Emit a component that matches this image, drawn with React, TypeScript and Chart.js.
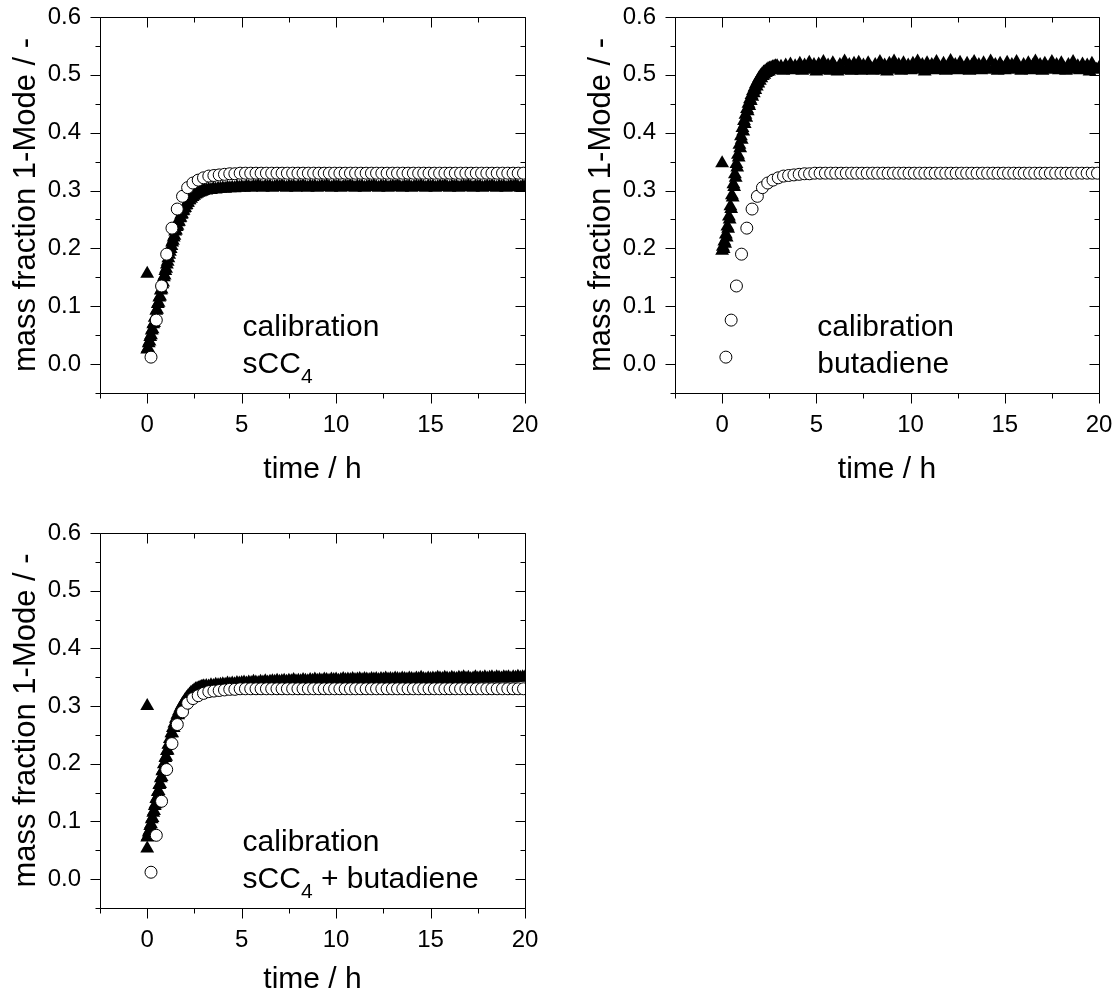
import React, { useEffect, useRef } from 'react';
import { Chart, registerables } from 'chart.js';

Chart.register(...registerables);

const FONT = "'Liberation Sans', Arial, Helvetica, sans-serif";

// ---- axis ticks ----
const xMajorTicks = [0, 5, 10, 15, 20];
const xMinorTicks = [-2.5, 2.5, 7.5, 12.5, 17.5];
const yMajorTicks = [0, 0.1, 0.2, 0.3, 0.4, 0.5, 0.6];
const yMinorTicks = [-0.05, 0.05, 0.15, 0.25, 0.35, 0.45, 0.55];

// ---- open circles (reference curve, same in all panels) ----
const modelT = [
  0.2, 0.48, 0.76, 1.03, 1.31, 1.59, 1.87, 2.14, 2.42, 2.70,
  2.98, 3.26, 3.53, 3.81, 4.09, 4.37, 4.64, 4.92, 5.20, 5.48,
  5.76, 6.03, 6.31, 6.59, 6.87, 7.14, 7.42, 7.70, 7.98, 8.25,
  8.53, 8.81, 9.09, 9.37, 9.64, 9.92, 10.20, 10.48, 10.76, 11.03,
  11.31, 11.59, 11.87, 12.14, 12.42, 12.70, 12.98, 13.25, 13.53, 13.81,
  14.09, 14.37, 14.64, 14.92, 15.20, 15.48, 15.76, 16.03, 16.31, 16.59,
  16.87, 17.14, 17.42, 17.70, 17.98, 18.25, 18.53, 18.81, 19.09, 19.37,
  19.64, 19.92,
];
const modelV = [
  0.012, 0.076, 0.135, 0.190, 0.235, 0.268, 0.290, 0.305, 0.313, 0.318,
  0.322, 0.325, 0.326, 0.327, 0.328, 0.329, 0.329, 0.330, 0.330, 0.330,
  0.330, 0.330, 0.330, 0.330, 0.330, 0.330, 0.330, 0.330, 0.330, 0.330,
  0.330, 0.330, 0.330, 0.330, 0.330, 0.330, 0.330, 0.330, 0.330, 0.330,
  0.330, 0.330, 0.330, 0.330, 0.330, 0.330, 0.330, 0.330, 0.330, 0.330,
  0.330, 0.330, 0.330, 0.330, 0.330, 0.330, 0.330, 0.330, 0.330, 0.330,
  0.330, 0.330, 0.330, 0.330, 0.330, 0.330, 0.330, 0.330, 0.330, 0.330,
  0.330, 0.330,
];

// ---- filled triangles (measured): sampling times ----
const riseT = [
  0, 0.04, 0.08, 0.12, 0.16, 0.20, 0.24, 0.28, 0.32, 0.36,
  0.40, 0.44, 0.48, 0.52, 0.56, 0.60, 0.64, 0.68, 0.72, 0.76,
  0.80, 0.84, 0.88, 0.92, 0.96, 1.00, 1.04, 1.08, 1.12, 1.16,
  1.20, 1.24, 1.28, 1.32, 1.36, 1.40, 1.44, 1.48, 1.52, 1.56,
  1.60, 1.64, 1.68, 1.72, 1.76, 1.80, 1.84, 1.88, 1.92, 1.96,
  2.00, 2.04, 2.08, 2.12, 2.16, 2.20, 2.24, 2.28, 2.32, 2.36,
  2.40, 2.44, 2.48, 2.52, 2.56, 2.60, 2.64, 2.68, 2.72, 2.76,
  2.80, 2.84, 2.88, 2.92, 2.96,
];
const plateauT = [
  3, 3.125, 3.25, 3.375, 3.5, 3.625, 3.75, 3.875,
  4, 4.125, 4.25, 4.375, 4.5, 4.625, 4.75, 4.875,
  5, 5.125, 5.25, 5.375, 5.5, 5.625, 5.75, 5.875,
  6, 6.125, 6.25, 6.375, 6.5, 6.625, 6.75, 6.875,
  7, 7.125, 7.25, 7.375, 7.5, 7.625, 7.75, 7.875,
  8, 8.125, 8.25, 8.375, 8.5, 8.625, 8.75, 8.875,
  9, 9.125, 9.25, 9.375, 9.5, 9.625, 9.75, 9.875,
  10, 10.125, 10.25, 10.375, 10.5, 10.625, 10.75, 10.875,
  11, 11.125, 11.25, 11.375, 11.5, 11.625, 11.75, 11.875,
  12, 12.125, 12.25, 12.375, 12.5, 12.625, 12.75, 12.875,
  13, 13.125, 13.25, 13.375, 13.5, 13.625, 13.75, 13.875,
  14, 14.125, 14.25, 14.375, 14.5, 14.625, 14.75, 14.875,
  15, 15.125, 15.25, 15.375, 15.5, 15.625, 15.75, 15.875,
  16, 16.125, 16.25, 16.375, 16.5, 16.625, 16.75, 16.875,
  17, 17.125, 17.25, 17.375, 17.5, 17.625, 17.75, 17.875,
  18, 18.125, 18.25, 18.375, 18.5, 18.625, 18.75, 18.875,
  19, 19.125, 19.25, 19.375, 19.5, 19.625, 19.75, 19.875,
  20,
];

// ---- panel 1: calibration sCC4 ----
const sccRiseV = [
  0.025, 0.028, 0.036, 0.039, 0.047, 0.050, 0.058, 0.060, 0.069, 0.071,
  0.080, 0.082, 0.092, 0.094, 0.104, 0.106, 0.115, 0.117, 0.127, 0.129,
  0.138, 0.141, 0.150, 0.153, 0.161, 0.165, 0.172, 0.177, 0.183, 0.189,
  0.194, 0.199, 0.204, 0.210, 0.213, 0.219, 0.222, 0.229, 0.231, 0.237,
  0.239, 0.245, 0.246, 0.252, 0.253, 0.258, 0.259, 0.264, 0.265, 0.269,
  0.270, 0.274, 0.275, 0.279, 0.279, 0.283, 0.283, 0.287, 0.286, 0.290,
  0.289, 0.292, 0.291, 0.294, 0.293, 0.295, 0.295, 0.297, 0.296, 0.298,
  0.297, 0.299, 0.298, 0.300, 0.299,
];
const sccPlateauV = [
  0.301, 0.300, 0.302, 0.301, 0.303, 0.302, 0.303, 0.303,
  0.304, 0.303, 0.305, 0.304, 0.305, 0.304, 0.306, 0.305,
  0.306, 0.305, 0.307, 0.306, 0.305, 0.307, 0.306, 0.308,
  0.306, 0.305, 0.307, 0.306, 0.307, 0.305, 0.306, 0.307,
  0.306, 0.308, 0.306, 0.305, 0.307, 0.306, 0.307, 0.305,
  0.307, 0.306, 0.308, 0.306, 0.305, 0.307, 0.306, 0.307,
  0.305, 0.306, 0.307, 0.306, 0.308, 0.306, 0.305, 0.307,
  0.306, 0.307, 0.305, 0.306, 0.307, 0.306, 0.308, 0.306,
  0.305, 0.307, 0.306, 0.307, 0.305, 0.306, 0.307, 0.306,
  0.308, 0.306, 0.305, 0.307, 0.306, 0.307, 0.305, 0.306,
  0.307, 0.306, 0.308, 0.306, 0.305, 0.307, 0.306, 0.307,
  0.305, 0.306, 0.307, 0.306, 0.308, 0.306, 0.305, 0.307,
  0.306, 0.307, 0.305, 0.306, 0.307, 0.306, 0.308, 0.306,
  0.305, 0.307, 0.306, 0.307, 0.305, 0.306, 0.307, 0.306,
  0.308, 0.306, 0.305, 0.307, 0.306, 0.307, 0.305, 0.306,
  0.307, 0.306, 0.308, 0.306, 0.305, 0.307, 0.306, 0.307,
  0.305, 0.306, 0.307, 0.306, 0.308, 0.306, 0.305, 0.307,
  0.306,
];
const sccExtraT = [0];
const sccExtraV = [0.156];

// ---- panel 2: calibration butadiene ----
const butRiseV = [
  0.196, 0.203, 0.199, 0.212, 0.208, 0.224, 0.219, 0.238, 0.234, 0.255,
  0.250, 0.273, 0.268, 0.292, 0.288, 0.311, 0.306, 0.328, 0.322, 0.346,
  0.340, 0.362, 0.357, 0.379, 0.373, 0.394, 0.388, 0.408, 0.402, 0.420,
  0.415, 0.431, 0.426, 0.441, 0.437, 0.450, 0.446, 0.458, 0.455, 0.465,
  0.462, 0.472, 0.468, 0.478, 0.474, 0.484, 0.480, 0.489, 0.485, 0.494,
  0.490, 0.498, 0.494, 0.501, 0.498, 0.504, 0.500, 0.506, 0.503, 0.508,
  0.505, 0.510, 0.506, 0.511, 0.508, 0.512, 0.509, 0.513, 0.510, 0.514,
  0.511, 0.515, 0.511, 0.515, 0.512,
];
const butPlateauV = [
  0.509, 0.514, 0.507, 0.516, 0.510, 0.518, 0.508, 0.515,
  0.511, 0.519, 0.507, 0.516, 0.509, 0.521, 0.510, 0.517,
  0.506, 0.518, 0.511, 0.522, 0.508, 0.516, 0.507, 0.520,
  0.512, 0.506, 0.517, 0.510, 0.523, 0.508, 0.517, 0.507,
  0.519, 0.510, 0.521, 0.507, 0.516, 0.509, 0.520, 0.512,
  0.507, 0.517, 0.510, 0.522, 0.508, 0.516, 0.506, 0.519,
  0.511, 0.523, 0.509, 0.517, 0.507, 0.520, 0.510, 0.516,
  0.508, 0.519, 0.512, 0.523, 0.509, 0.517, 0.506, 0.520,
  0.510, 0.517, 0.508, 0.522, 0.512, 0.509, 0.519, 0.507,
  0.514, 0.524, 0.510, 0.517, 0.508, 0.521, 0.512, 0.509,
  0.519, 0.507, 0.516, 0.522, 0.510, 0.517, 0.508, 0.520,
  0.512, 0.509, 0.523, 0.510, 0.517, 0.507, 0.519, 0.512,
  0.508, 0.521, 0.510, 0.517, 0.509, 0.522, 0.512, 0.507,
  0.517, 0.510, 0.520, 0.508, 0.516, 0.523, 0.510, 0.517,
  0.507, 0.519, 0.512, 0.509, 0.522, 0.510, 0.517, 0.508,
  0.520, 0.512, 0.507, 0.517, 0.510, 0.522, 0.509, 0.515,
  0.508, 0.518, 0.510, 0.516, 0.506, 0.519, 0.511, 0.509,
  0.512,
];
const butExtraT = [0];
const butExtraV = [0.347];

// ---- panel 3: calibration sCC4 + butadiene ----
const mixRiseV = [
  0.072, 0.075, 0.081, 0.084, 0.092, 0.095, 0.104, 0.106, 0.115, 0.118,
  0.127, 0.130, 0.139, 0.141, 0.151, 0.153, 0.163, 0.165, 0.175, 0.177,
  0.187, 0.189, 0.199, 0.200, 0.210, 0.212, 0.222, 0.223, 0.233, 0.234,
  0.243, 0.244, 0.253, 0.253, 0.262, 0.262, 0.270, 0.270, 0.278, 0.277,
  0.285, 0.284, 0.291, 0.290, 0.297, 0.296, 0.302, 0.301, 0.306, 0.305,
  0.310, 0.309, 0.314, 0.313, 0.317, 0.316, 0.320, 0.319, 0.323, 0.321,
  0.325, 0.323, 0.327, 0.325, 0.329, 0.327, 0.330, 0.328, 0.331, 0.330,
  0.332, 0.331, 0.333, 0.332, 0.334,
];
const mixPlateauV = [
  0.334, 0.335, 0.334, 0.336, 0.335, 0.337, 0.336, 0.337,
  0.338, 0.337, 0.339, 0.338, 0.339, 0.338, 0.340, 0.339,
  0.340, 0.341, 0.339, 0.341, 0.340, 0.342, 0.341, 0.340,
  0.342, 0.341, 0.343, 0.341, 0.342, 0.343, 0.342, 0.344,
  0.342, 0.343, 0.344, 0.342, 0.344, 0.343, 0.345, 0.343,
  0.344, 0.343, 0.345, 0.344, 0.343, 0.345, 0.344, 0.346,
  0.344, 0.345, 0.344, 0.346, 0.345, 0.344, 0.346, 0.345,
  0.346, 0.344, 0.345, 0.347, 0.345, 0.346, 0.345, 0.347,
  0.345, 0.346, 0.347, 0.345, 0.347, 0.346, 0.345, 0.347,
  0.346, 0.347, 0.345, 0.347, 0.346, 0.348, 0.346, 0.347,
  0.346, 0.348, 0.347, 0.346, 0.348, 0.347, 0.346, 0.348,
  0.347, 0.346, 0.348, 0.347, 0.349, 0.347, 0.346, 0.348,
  0.347, 0.348, 0.347, 0.349, 0.348, 0.347, 0.349, 0.348,
  0.347, 0.349, 0.348, 0.347, 0.349, 0.348, 0.350, 0.348,
  0.349, 0.347, 0.348, 0.350, 0.348, 0.349, 0.348, 0.350,
  0.348, 0.349, 0.350, 0.348, 0.350, 0.349, 0.348, 0.350,
  0.349, 0.350, 0.348, 0.350, 0.349, 0.351, 0.349, 0.350,
  0.350,
];
const mixExtraT = [0, 0];
const mixExtraV = [0.300, 0.053];

// ---- annotation texts ----
const sccLines = [[{ text: 'calibration' }], [{ text: 'sCC' }, { text: '4', sub: true }]];
const butLines = [[{ text: 'calibration' }], [{ text: 'butadiene' }]];
const mixLines = [[{ text: 'calibration' }], [{ text: 'sCC' }, { text: '4', sub: true }, { text: ' + butadiene' }]];

type Part = { text: string; sub?: boolean };

const framePlugin = {
  id: 'frame',
  afterDatasetsDraw(chart: any) {
    const { ctx, chartArea } = chart;
    const xs = chart.scales.x;
    const ys = chart.scales.y;
    const L = Math.round(chartArea.left) + 0.5;
    const R = Math.round(chartArea.right) + 0.5;
    const T = Math.round(chartArea.top) + 0.5;
    const B = Math.round(chartArea.bottom) + 0.5;
    ctx.save();
    ctx.strokeStyle = '#000';
    ctx.lineWidth = 1;
    ctx.beginPath();
    ctx.rect(L, T, R - L, B - T);
    const xt = (v: number, len: number) => {
      const p = Math.round(xs.getPixelForValue(v)) + 0.5;
      ctx.moveTo(p, B); ctx.lineTo(p, B + len);
      ctx.moveTo(p, T); ctx.lineTo(p, T + len);
    };
    const yt = (v: number, len: number) => {
      const p = Math.round(ys.getPixelForValue(v)) + 0.5;
      ctx.moveTo(L, p); ctx.lineTo(L - len, p);
      ctx.moveTo(R, p); ctx.lineTo(R - len, p);
    };
    xMajorTicks.forEach((v) => xt(v, 10));
    xMinorTicks.forEach((v) => xt(v, 5));
    yMajorTicks.forEach((v) => yt(v, 10));
    yMinorTicks.forEach((v) => yt(v, 5));
    ctx.stroke();
    ctx.restore();
  },
};

function makeTextPlugin(lines: Part[][], tx: number, ty: number[]) {
  return {
    id: 'annot',
    afterDraw(chart: any) {
      const { ctx } = chart;
      const xs = chart.scales.x;
      const ys = chart.scales.y;
      ctx.save();
      ctx.fillStyle = '#000';
      ctx.textAlign = 'left';
      ctx.textBaseline = 'alphabetic';
      lines.forEach((parts, i) => {
        let px = xs.getPixelForValue(tx);
        const py = ys.getPixelForValue(ty[i]);
        parts.forEach((p) => {
          ctx.font = `${p.sub ? 21 : 30}px ${FONT}`;
          ctx.fillText(p.text, px, py + (p.sub ? 10 : 0));
          px += ctx.measureText(p.text).width;
        });
      });
      ctx.restore();
    },
  };
}

type PanelProps = {
  left: number; top: number; width: number; height: number;
  padTop: number; padRight: number; xAxisH: number; xTitlePad: number;
  riseV: number[]; plateauV: number[]; extraT: number[]; extraV: number[]; lines: Part[][];
};

function Panel(p: PanelProps) {
  const ref = useRef<HTMLCanvasElement>(null);
  useEffect(() => {
    if (!ref.current) return;
    const zeroPad = (s: any) => {
      s.paddingTop = 0; s.paddingBottom = 0; s.paddingLeft = 0; s.paddingRight = 0;
    };
    const circles = modelT.map((t, i) => ({ x: t, y: modelV[i] }));
    const tris = riseT.map((t, i) => ({ x: t, y: p.riseV[i] }))
      .concat(plateauT.map((t, i) => ({ x: t, y: p.plateauV[i] })))
      .concat(p.extraT.map((t, i) => ({ x: t, y: p.extraV[i] })));
    const chart = new Chart(ref.current, {
      type: 'scatter',
      data: {
        datasets: [
          {
            data: circles,
            pointStyle: 'circle',
            pointRadius: 6,
            pointHoverRadius: 6,
            pointBorderWidth: 1,
            pointBackgroundColor: '#fff',
            pointBorderColor: '#000',
            backgroundColor: '#fff',
            borderColor: '#000',
            clip: 0,
          } as any,
          {
            data: tris,
            pointStyle: 'triangle',
            pointRadius: 8,
            pointHoverRadius: 8,
            pointBorderWidth: 0,
            pointBackgroundColor: '#000',
            pointBorderColor: '#000',
            backgroundColor: '#000',
            borderColor: '#000',
            clip: 0,
          } as any,
        ],
      },
      options: {
        animation: false,
        responsive: false,
        devicePixelRatio: 1,
        events: [],
        layout: { padding: { top: p.padTop, right: p.padRight, bottom: 0, left: 0 } },
        plugins: { legend: { display: false }, tooltip: { enabled: false } },
        scales: {
          x: {
            type: 'linear',
            min: -2.5,
            max: 20,
            afterBuildTicks: (s: any) => { s.ticks = xMajorTicks.map((v) => ({ value: v })); },
            afterFit: (s: any) => { s.height = p.xAxisH; zeroPad(s); },
            grid: { display: false, drawTicks: false },
            border: { display: false },
            ticks: {
              color: '#000',
              font: { family: FONT, size: 24 },
              padding: 17.6,
              maxRotation: 0,
              autoSkip: false,
              callback: (v: any) => String(v),
            },
            title: {
              display: true,
              text: 'time / h',
              color: '#000',
              font: { family: FONT, size: 30 },
              padding: { top: 0, bottom: p.xTitlePad },
            },
          },
          y: {
            type: 'linear',
            min: -0.05,
            max: 0.6,
            afterBuildTicks: (s: any) => { s.ticks = yMajorTicks.map((v) => ({ value: v })); },
            afterFit: (s: any) => { s.width = 100; zeroPad(s); },
            grid: { display: false, drawTicks: false },
            border: { display: false },
            ticks: {
              color: '#000',
              font: { family: FONT, size: 24 },
              padding: 19,
              autoSkip: false,
              callback: (v: any) => Number(v).toFixed(1),
            },
            title: {
              display: true,
              text: 'mass fraction 1-Mode / -',
              color: '#000',
              font: { family: FONT, size: 31 },
              padding: { top: 7.7, bottom: 0 },
            },
          },
        },
      } as any,
      plugins: [framePlugin, makeTextPlugin(p.lines, 5.05, [0.0485, -0.0156])],
    });
    return () => chart.destroy();
  }, []);
  return (
    <canvas
      ref={ref}
      width={p.width}
      height={p.height}
      style={{ position: 'absolute', left: p.left, top: p.top, width: p.width, height: p.height }}
    />
  );
}

export default function App() {
  return (
    <div style={{ position: 'absolute', left: 0, top: 0, width: 1119, height: 1001, background: '#fff', overflow: 'hidden' }}>
      <Panel left={0} top={0} width={560} height={490} padTop={17} padRight={35} xAxisH={97} xTitlePad={2.4}
        riseV={sccRiseV} plateauV={sccPlateauV} extraT={sccExtraT} extraV={sccExtraV} lines={sccLines} />
      <Panel left={575} top={0} width={544} height={490} padTop={17} padRight={20} xAxisH={97} xTitlePad={2.4}
        riseV={butRiseV} plateauV={butPlateauV} extraT={butExtraT} extraV={butExtraV} lines={butLines} />
      <Panel left={0} top={490} width={560} height={511} padTop={43} padRight={35} xAxisH={93} xTitlePad={3.4}
        riseV={mixRiseV} plateauV={mixPlateauV} extraT={mixExtraT} extraV={mixExtraV} lines={mixLines} />
    </div>
  );
}
